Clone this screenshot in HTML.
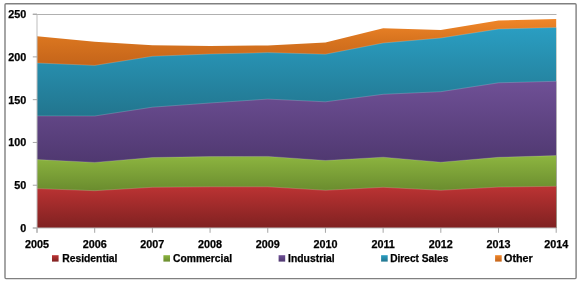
<!DOCTYPE html>
<html><head><meta charset="utf-8"><style>
html,body{margin:0;padding:0;background:#fff;}
svg{display:block;will-change:transform;}
text{font-family:"Liberation Sans",sans-serif;font-weight:bold;font-size:10.8px;fill:#000;stroke:#000;stroke-width:0.25px;}
</style></head><body>
<svg width="580" height="283" viewBox="0 0 580 283">
<defs><linearGradient id="goth" gradientUnits="userSpaceOnUse" x1="0" y1="19.10" x2="0" y2="65.40"><stop offset="0" stop-color="#f08628"/><stop offset="0.45" stop-color="#d8741f"/><stop offset="1" stop-color="#c4641a"/></linearGradient><linearGradient id="loth" x1="0" y1="0" x2="0" y2="1"><stop offset="0" stop-color="#f08628"/><stop offset="1" stop-color="#c4641a"/></linearGradient><linearGradient id="gdir" gradientUnits="userSpaceOnUse" x1="0" y1="27.50" x2="0" y2="116.00"><stop offset="0" stop-color="#2a9ec2"/><stop offset="1" stop-color="#22758e"/></linearGradient><linearGradient id="ldir" x1="0" y1="0" x2="0" y2="1"><stop offset="0" stop-color="#2a9ec2"/><stop offset="1" stop-color="#22758e"/></linearGradient><linearGradient id="gind" gradientUnits="userSpaceOnUse" x1="0" y1="81.30" x2="0" y2="162.40"><stop offset="0" stop-color="#6f5096"/><stop offset="1" stop-color="#4f3870"/></linearGradient><linearGradient id="lind" x1="0" y1="0" x2="0" y2="1"><stop offset="0" stop-color="#6f5096"/><stop offset="1" stop-color="#4f3870"/></linearGradient><linearGradient id="gcom" gradientUnits="userSpaceOnUse" x1="0" y1="155.60" x2="0" y2="190.70"><stop offset="0" stop-color="#8db540"/><stop offset="1" stop-color="#6a8c2e"/></linearGradient><linearGradient id="lcom" x1="0" y1="0" x2="0" y2="1"><stop offset="0" stop-color="#8db540"/><stop offset="1" stop-color="#6a8c2e"/></linearGradient><linearGradient id="gres" gradientUnits="userSpaceOnUse" x1="0" y1="186.30" x2="0" y2="228.00"><stop offset="0" stop-color="#bc3333"/><stop offset="1" stop-color="#7f2121"/></linearGradient><linearGradient id="lres" x1="0" y1="0" x2="0" y2="1"><stop offset="0" stop-color="#bc3333"/><stop offset="1" stop-color="#7f2121"/></linearGradient></defs>
<rect x="0" y="0" width="580" height="283" fill="#fff"/>
<rect x="5.0" y="3.7" width="571.1" height="274.9" rx="1" fill="none" stroke="#808080" stroke-width="1.4"/>
<line x1="32.8" y1="14.5" x2="556.5" y2="14.5" stroke="#b0b0b0" stroke-width="1"/>
<polygon points="37.00,36.30 94.69,41.80 152.38,45.20 210.07,45.90 267.76,45.50 325.44,42.40 383.13,28.30 440.82,30.00 498.51,20.50 556.20,19.10 556.20,228.00 37.00,228.00" fill="url(#goth)"/><polygon points="37.00,63.00 94.69,65.40 152.38,56.30 210.07,54.00 267.76,52.60 325.44,54.20 383.13,43.00 440.82,38.00 498.51,29.00 556.20,27.50 556.20,228.00 37.00,228.00" fill="url(#gdir)"/><polygon points="37.00,115.90 94.69,116.00 152.38,107.20 210.07,103.00 267.76,99.10 325.44,101.80 383.13,94.30 440.82,91.70 498.51,82.80 556.20,81.30 556.20,228.00 37.00,228.00" fill="url(#gind)"/><polygon points="37.00,159.60 94.69,162.40 152.38,157.50 210.07,156.60 267.76,156.40 325.44,160.50 383.13,157.20 440.82,162.20 498.51,157.30 556.20,155.60 556.20,228.00 37.00,228.00" fill="url(#gcom)"/><polygon points="37.00,188.60 94.69,190.70 152.38,187.30 210.07,186.80 267.76,186.80 325.44,190.30 383.13,187.30 440.82,190.30 498.51,187.10 556.20,186.30 556.20,228.00 37.00,228.00" fill="url(#gres)"/>
<polyline points="37.00,188.60 94.69,190.70 152.38,187.30 210.07,186.80 267.76,186.80 325.44,190.30 383.13,187.30 440.82,190.30 498.51,187.10 556.20,186.30" fill="none" stroke="#fff" stroke-opacity="0.22" stroke-width="0.8"/><polyline points="37.00,159.60 94.69,162.40 152.38,157.50 210.07,156.60 267.76,156.40 325.44,160.50 383.13,157.20 440.82,162.20 498.51,157.30 556.20,155.60" fill="none" stroke="#fff" stroke-opacity="0.22" stroke-width="0.8"/><polyline points="37.00,115.90 94.69,116.00 152.38,107.20 210.07,103.00 267.76,99.10 325.44,101.80 383.13,94.30 440.82,91.70 498.51,82.80 556.20,81.30" fill="none" stroke="#fff" stroke-opacity="0.22" stroke-width="0.8"/><polyline points="37.00,63.00 94.69,65.40 152.38,56.30 210.07,54.00 267.76,52.60 325.44,54.20 383.13,43.00 440.82,38.00 498.51,29.00 556.20,27.50" fill="none" stroke="#fff" stroke-opacity="0.22" stroke-width="0.8"/>
<line x1="37" y1="14.1" x2="37" y2="232.8" stroke="#bdbdbd" stroke-width="1"/>
<line x1="32.8" y1="228.0" x2="556.2" y2="228.0" stroke="#bdbdbd" stroke-width="1"/>
<line x1="32.8" y1="228.00" x2="37" y2="228.00" stroke="#a6a6a6" stroke-width="1"/><text x="26.3" y="231.90" text-anchor="end">0</text><line x1="32.8" y1="185.22" x2="37" y2="185.22" stroke="#a6a6a6" stroke-width="1"/><text x="26.3" y="189.12" text-anchor="end">50</text><line x1="32.8" y1="142.44" x2="37" y2="142.44" stroke="#a6a6a6" stroke-width="1"/><text x="26.3" y="146.34" text-anchor="end">100</text><line x1="32.8" y1="99.66" x2="37" y2="99.66" stroke="#a6a6a6" stroke-width="1"/><text x="26.3" y="103.56" text-anchor="end">150</text><line x1="32.8" y1="56.88" x2="37" y2="56.88" stroke="#a6a6a6" stroke-width="1"/><text x="26.3" y="60.78" text-anchor="end">200</text><line x1="32.8" y1="14.10" x2="37" y2="14.10" stroke="#a6a6a6" stroke-width="1"/><text x="26.3" y="18.00" text-anchor="end">250</text>
<line x1="37.00" y1="228.0" x2="37.00" y2="232.8" stroke="#a6a6a6" stroke-width="1"/><text x="37.00" y="247.6" text-anchor="middle">2005</text><line x1="94.69" y1="228.0" x2="94.69" y2="232.8" stroke="#a6a6a6" stroke-width="1"/><text x="94.69" y="247.6" text-anchor="middle">2006</text><line x1="152.38" y1="228.0" x2="152.38" y2="232.8" stroke="#a6a6a6" stroke-width="1"/><text x="152.38" y="247.6" text-anchor="middle">2007</text><line x1="210.07" y1="228.0" x2="210.07" y2="232.8" stroke="#a6a6a6" stroke-width="1"/><text x="210.07" y="247.6" text-anchor="middle">2008</text><line x1="267.76" y1="228.0" x2="267.76" y2="232.8" stroke="#a6a6a6" stroke-width="1"/><text x="267.76" y="247.6" text-anchor="middle">2009</text><line x1="325.44" y1="228.0" x2="325.44" y2="232.8" stroke="#a6a6a6" stroke-width="1"/><text x="325.44" y="247.6" text-anchor="middle">2010</text><line x1="383.13" y1="228.0" x2="383.13" y2="232.8" stroke="#a6a6a6" stroke-width="1"/><text x="383.13" y="247.6" text-anchor="middle">2011</text><line x1="440.82" y1="228.0" x2="440.82" y2="232.8" stroke="#a6a6a6" stroke-width="1"/><text x="440.82" y="247.6" text-anchor="middle">2012</text><line x1="498.51" y1="228.0" x2="498.51" y2="232.8" stroke="#a6a6a6" stroke-width="1"/><text x="498.51" y="247.6" text-anchor="middle">2013</text><line x1="556.20" y1="228.0" x2="556.20" y2="232.8" stroke="#a6a6a6" stroke-width="1"/><text x="556.20" y="247.6" text-anchor="middle">2014</text>
<rect x="52.0" y="255.2" width="6.6" height="6.4" fill="url(#lres)"/><text x="62.2" y="262" style="font-size:10.4px" textLength="55.2" lengthAdjust="spacingAndGlyphs">Residential</text><rect x="163.4" y="255.2" width="6.6" height="6.4" fill="url(#lcom)"/><text x="173" y="262" style="font-size:10.4px" textLength="59.0" lengthAdjust="spacingAndGlyphs">Commercial</text><rect x="278.6" y="255.2" width="6.6" height="6.4" fill="url(#lind)"/><text x="288.1" y="262" style="font-size:10.4px" textLength="46.6" lengthAdjust="spacingAndGlyphs">Industrial</text><rect x="381.1" y="255.2" width="6.6" height="6.4" fill="url(#ldir)"/><text x="390.2" y="262" style="font-size:10.4px" textLength="58.1" lengthAdjust="spacingAndGlyphs">Direct Sales</text><rect x="495.1" y="255.2" width="6.6" height="6.4" fill="url(#loth)"/><text x="504" y="262" style="font-size:10.4px" textLength="28.8" lengthAdjust="spacingAndGlyphs">Other</text>
</svg>
</body></html>
